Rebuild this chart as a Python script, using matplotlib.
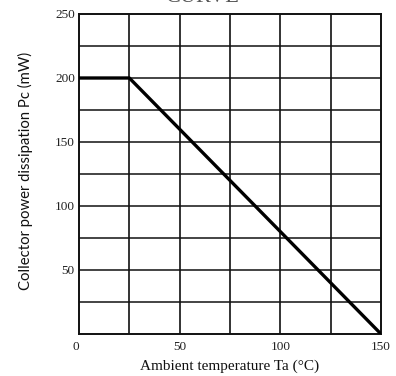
import matplotlib
matplotlib.use("Agg")
import matplotlib.pyplot as plt

# Derating curve: collector power dissipation vs ambient temperature
temp_c = [0, 25, 150]
power_mw = [200, 200, 0]

x_ticks = [0, 50, 100, 150]
y_ticks = [50, 100, 150, 200, 250]

W, H = 396, 376
fig = plt.figure(figsize=(W / 100, H / 100), dpi=100)
ax = fig.add_axes([79 / W, 1 - 334 / H, 302 / W, 320 / H])

ax.set_xlim(0, 150)
ax.set_ylim(0, 250)

# grid every 25 units on both axes
for gx in range(25, 150, 25):
    ax.axvline(gx, color="#111111", lw=1.2, zorder=1)
for gy in range(25, 250, 25):
    ax.axhline(gy, color="#111111", lw=1.1, zorder=1)

ax.plot(temp_c, power_mw, color="black", lw=2.4, zorder=3, solid_capstyle="butt")

for s in ax.spines.values():
    s.set_linewidth(1.4)
    s.set_color("#111111")

serif = "Liberation Serif"
ax.set_xticks(x_ticks)
ax.set_yticks(y_ticks)
ax.tick_params(length=0)
ax.tick_params(axis="x", pad=5)
ax.tick_params(axis="y", pad=3)
ax.set_xticklabels([str(v) for v in x_ticks], family=serif, fontsize=9.5, color="#222222")
ax.set_yticklabels([str(v) for v in y_ticks], family=serif, fontsize=9.5, color="#222222")
# the origin label sits just left of the corner
ax.get_xticklabels()[0].set_horizontalalignment("right")

ax.set_xlabel("Ambient temperature Ta (°C)", family=serif, fontsize=11, color="#111111")
ax.xaxis.set_label_coords((230 - 79) / 302, (334 - 366) / 320)
ax.xaxis.label.set_verticalalignment("center")

ax.set_ylabel("Collector power dissipation Pc (mW)", family="Lato", fontsize=10.7, color="#111111")
ax.yaxis.set_label_coords((25 - 79) / 302, (334 - 171) / 320)
ax.yaxis.label.set_verticalalignment("center")

# heading above the chart, running off the top edge
fig.text(202 / W, 1 - 2.5 / H, "CURVE", ha="center", va="baseline",
         family=serif, fontsize=16, color="#555555")

fig.savefig("out.png", dpi=100)
